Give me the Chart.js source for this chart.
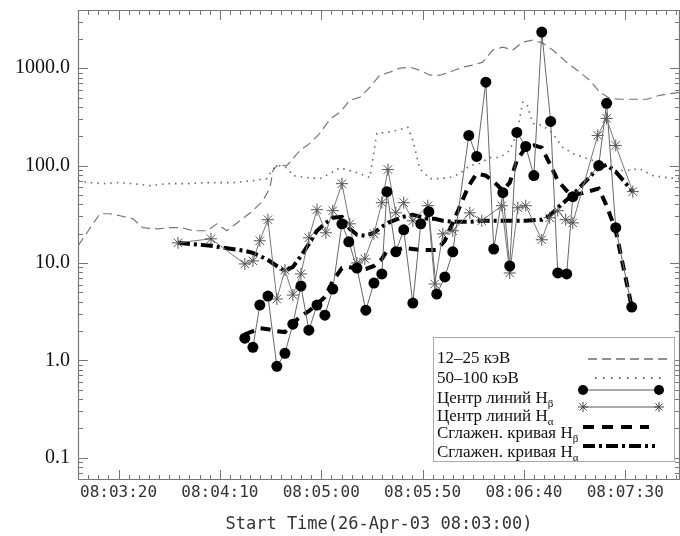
<!DOCTYPE html>
<html>
<head>
<meta charset="utf-8">
<script src="https://cdn.jsdelivr.net/npm/chart.js@4.4.1/dist/chart.umd.min.js"></script>
<style>
html,body{margin:0;padding:0;background:#fff;}
canvas{display:block;}
</style>
</head>
<body>
<canvas id="c" width="680" height="536"></canvas>
<script>
// ---- DATA (seconds after 08:03:00) ----
const hxrTime = [0,10.8,15.8,20.7,27.1,32,39,45.4,51.3,56.7,63.6,68.5,73.5,79.9,86.3,91.2,94.7,96.2,98.1,103,106,109.5,114.4,119.3,122.8,125.7,129.2,134.1,139,144,148.9,153.8,158.8,163.7,168.6,173.6,178.5,183.4,189.8,194.8,199.7,204.6,209.6,214.5,219.4,224.4,229.3,234.2,241.1,247.5,252.5,257.4,262.3,267.3,273.7,280.6,287,293.4,296.8];
const hxr12_25 = [15,32,32,30.5,28.4,23,22.4,23,23,21.4,21.4,25.2,21.4,27.1,34.4,43.5,59,89,100,100,118,143,169,214,271,313,352,468,502,637,847,910,1000,1024,953,847,847,910,1024,1074,1153,1535,1645,1535,1854,1945,1810,1535,1153,910,751,566,491,480,480,480,527,552,565];

const hxr2Time = [0,5.9,12.3,19.2,27.1,35.5,43.9,53.7,63.6,76.4,86.3,93.2,96.2,99.6,103,106,112.9,119.3,124.3,129.2,134.1,139,144,147.4,152.4,157.3,162.7,165.2,168.6,173.6,178.5,183.4,188.4,193.3,198.2,203.2,208.1,213,216.5,219.4,221.4,224.4,229.3,234.2,239.2,244.1,251,257.4,263.8,270.7,277.1,283.5,290.4,296.8];
const hxr50_100 = [70,66.8,65.2,66.8,65.2,62.2,65.2,65.2,66.8,66.8,70,73.4,93,100,95,79,75.2,73.4,82.8,95,88.7,82.8,75.2,214,219,230,247,181,93,73.4,73.4,75.2,82.8,100,105,121,121,143,214,446,435,271,258,214,153,133,118,107,89,89,93,79,75.2,73.4];

const hbTime = [82.3,86.3,89.7,93.7,98.1,102.1,106,110,113.9,117.9,121.8,125.7,130.2,133.6,137.6,142,146,149.9,152.4,156.8,160.7,165.2,169.1,173.1,177,181,184.9,192.8,196.7,201.2,205.1,209.6,213,216.5,220.9,224.9,228.8,233.2,236.7,241.1,244.1,256.9,260.8,265.3,273.2];
const hbCenter = [1.69,1.36,3.69,4.57,0.867,1.18,2.35,5.79,2.04,3.69,2.91,5.4,25.2,16.5,8.87,3.27,6.22,7.71,54,13,21.9,3.87,25.2,33.6,4.79,7.18,13,204,124,718,13.9,52.7,9.31,219,157,78.9,2350,284,7.89,7.71,47.9,100,436,23,3.52];
const hbSmooth = [1.85,1.99,2.14,2.09,1.99,1.95,2.4,2.84,3.2,3.78,4.46,6.52,8.87,9.1,8.67,8.67,9.31,11,13.3,13.6,14.3,13.9,13.6,13.6,13.6,16.9,25.8,62.2,82.8,78.9,68.4,55.2,66.8,113,153,161,153,100,70,55.2,49.1,57.9,38.7,21.4,3.52];

const haTime = [49.3,65.6,82.3,86.3,89.7,93.7,98.1,102.1,106,110,113.9,117.9,122.3,125.7,130.2,134.1,137.6,141.5,146,149.9,152.9,156.8,160.7,165.2,172.6,176,180,184.9,193.3,199.2,209.1,213,217,220.9,228.8,232.7,236.7,240.6,244.1,256.4,260.8,265.3,273.7];
const haCenter = [16.1,17.7,9.77,10.5,16.9,27.8,4.26,8.47,4.68,7.71,18.1,35.2,20.4,34.4,65.2,25.2,10,11,19.9,41.6,91,32.7,41.6,27.1,38.7,6.08,19.9,21.4,32.7,27.1,38.7,7.89,36.9,38.7,17.3,29.1,34.4,27.8,25.8,204,305,161,54];
const haSmooth = [16.1,15,13.3,12.7,11.8,10.7,9.31,8.27,9.1,11.8,15.7,21.4,25.8,29.1,29.8,22.4,19.5,19,20.4,23.5,25.8,27.8,29.8,31.3,28.4,28.4,27.1,26.5,26.5,27.1,27.1,27.1,27.1,27.1,27.8,30.5,36.9,43.5,50.2,93.1,102,86.7,54];

const xTickSeconds = [20,70,120,170,220,270];
const yTickValues = [0.1,1,10,100,1000];
const yTickLabels = ['0.1','1.0','10.0','100.0','1000.0'];
const legendLabels = [
  ['12–25 кэВ',''],
  ['50–100 кэВ',''],
  ['Центр линий H','β'],
  ['Центр линий H','α'],
  ['Сглажен. кривая H','β'],
  ['Сглажен. кривая H','α']
];

function fmtTime(s){
  const t = 8*3600 + 3*60 + Math.round(s);
  const h = Math.floor(t/3600), m = Math.floor((t%3600)/60), sec = t%60;
  const p = n => String(n).padStart(2,'0');
  return p(h)+':'+p(m)+':'+p(sec);
}
const pts = (xs, ys) => xs.map((x,i)=>({x:x, y:ys[i]}));

const AXIS_COLOR = '#777';

const framePlugin = {
  id:'frame',
  afterDatasetsDraw(chart){
    const {ctx, chartArea:a, scales:{x, y}} = chart;
    ctx.save();
    ctx.strokeStyle = AXIS_COLOR;
    ctx.lineWidth = 1.2;
    ctx.beginPath();
    ctx.rect(a.left+0.5, a.top+0.5, a.right-a.left-1, a.bottom-a.top-1);
    ctx.stroke();
    ctx.lineWidth = 1;
    ctx.beginPath();
    for (let s = 5; s < x.max; s += 5) {
      const px = Math.round(x.getPixelForValue(s)) + 0.5;
      const len = ((s - 20) % 50 === 0) ? 10 : 5;
      ctx.moveTo(px, a.bottom); ctx.lineTo(px, a.bottom - len);
      ctx.moveTo(px, a.top); ctx.lineTo(px, a.top + len);
    }
    for (let d = -2; d <= 3; d++) {
      for (let m = 1; m <= 9; m++) {
        const v = m * Math.pow(10, d);
        if (v <= y.min || v >= y.max) continue;
        const py = Math.round(y.getPixelForValue(v)) + 0.5;
        const len = (m === 1) ? 10 : 5;
        ctx.moveTo(a.left, py); ctx.lineTo(a.left + len, py);
        ctx.moveTo(a.right, py); ctx.lineTo(a.right - len, py);
      }
    }
    ctx.stroke();
    ctx.restore();
  }
};

const legendPlugin = {
  id:'customLegend',
  afterDraw(chart){
    const {ctx, chartArea:a} = chart;
    const bx = a.right - 247, by = a.top + 327, bw = 241, bh = 124;
    ctx.save();
    ctx.fillStyle = '#fff';
    ctx.fillRect(bx, by, bw, bh);
    ctx.strokeStyle = '#aaa';
    ctx.lineWidth = 1;
    ctx.strokeRect(bx+0.5, by+0.5, bw, bh);
    const textY = [22, 42, 62, 80, 97, 116];
    const sampY = [22, 41, 53, 70, 90, 109];
    ctx.fillStyle = '#111';
    ctx.textBaseline = 'middle';
    legendLabels.forEach((lab, i) => {
      ctx.font = '17px "Liberation Serif"';
      ctx.fillText(lab[0], bx + 4, by + textY[i]);
      if (lab[1]) {
        const w = ctx.measureText(lab[0]).width;
        ctx.font = '11px "Liberation Serif"';
        ctx.fillText(lab[1], bx + 4 + w, by + textY[i] + 5);
      }
    });
    const x0 = bx + 150, x1 = bx + 226;
    ctx.strokeStyle = '#222'; ctx.lineWidth = 1.2; ctx.setLineDash([9,5]);
    ctx.beginPath(); ctx.moveTo(x0+5, by+sampY[0]); ctx.lineTo(x1+8, by+sampY[0]); ctx.stroke();
    ctx.setLineDash([1.5,6.5]); ctx.lineWidth = 1.6;
    ctx.beginPath(); ctx.moveTo(x0+12, by+sampY[1]); ctx.lineTo(x1+4, by+sampY[1]); ctx.stroke();
    ctx.setLineDash([]); ctx.lineWidth = 1; ctx.strokeStyle = '#555';
    ctx.beginPath(); ctx.moveTo(x0, by+sampY[2]); ctx.lineTo(x1, by+sampY[2]); ctx.stroke();
    ctx.fillStyle = '#000';
    [x0, x1].forEach(px => { ctx.beginPath(); ctx.arc(px, by+sampY[2], 5, 0, Math.PI*2); ctx.fill(); });
    ctx.beginPath(); ctx.moveTo(x0, by+sampY[3]); ctx.lineTo(x1, by+sampY[3]); ctx.stroke();
    ctx.strokeStyle = '#444';
    [x0, x1].forEach(px => {
      const cy = by+sampY[3], r = 5;
      ctx.beginPath();
      for (let k = 0; k < 4; k++) {
        const ang = k*Math.PI/4;
        ctx.moveTo(px - r*Math.cos(ang), cy - r*Math.sin(ang));
        ctx.lineTo(px + r*Math.cos(ang), cy + r*Math.sin(ang));
      }
      ctx.stroke();
    });
    ctx.strokeStyle = '#000'; ctx.lineWidth = 4; ctx.setLineDash([11,8]);
    ctx.beginPath(); ctx.moveTo(x0, by+sampY[4]); ctx.lineTo(x1-10, by+sampY[4]); ctx.stroke();
    ctx.setLineDash([12,4,3,4]);
    ctx.beginPath(); ctx.moveTo(x0, by+sampY[5]); ctx.lineTo(x1-4, by+sampY[5]); ctx.stroke();
    ctx.restore();
  }
};

new Chart(document.getElementById('c'), {
  type:'line',
  data:{
    datasets:[
      {label:'Центр линий Hβ', data:pts(hbTime, hbCenter), borderColor:'#666', borderWidth:1,
       pointStyle:'circle', pointRadius:5.5, pointBackgroundColor:'#000', pointBorderColor:'#000', pointBorderWidth:0, tension:0, order:1},
      {label:'Центр линий Hα', data:pts(haTime, haCenter), borderColor:'#777', borderWidth:1,
       pointStyle:'star', pointRadius:6, pointBorderColor:'#555', pointBorderWidth:1, tension:0, order:2},
      {label:'Сглажен. кривая Hβ', data:pts(hbTime, hbSmooth), borderColor:'#000', borderWidth:4, borderDash:[10,7],
       pointRadius:0, tension:0, order:3},
      {label:'Сглажен. кривая Hα', data:pts(haTime, haSmooth), borderColor:'#000', borderWidth:4, borderDash:[12,4,3,4],
       pointRadius:0, tension:0, order:4},
      {label:'50–100 кэВ', data:pts(hxr2Time, hxr50_100), borderColor:'#666', borderWidth:1.6, borderDash:[1.5,5],
       pointRadius:0, tension:0, order:5},
      {label:'12–25 кэВ', data:pts(hxrTime, hxr12_25), borderColor:'#777', borderWidth:1.2, borderDash:[9,5],
       pointRadius:0, tension:0, order:6}
    ]
  },
  options:{
    responsive:false,
    animation:false,
    layout:{autoPadding:false, padding:{top:10, right:0, left:0, bottom:0}},
    plugins:{legend:{display:false}, tooltip:{enabled:false}},
    scales:{
      x:{
        type:'linear', min:0, max:297,
        grid:{display:false, drawTicks:false}, border:{display:false},
        afterBuildTicks: s => { s.ticks = xTickSeconds.map(v => ({value:v})); },
        ticks:{callback: v => fmtTime(v), font:{family:'DejaVu Sans Mono', size:16, lineHeight:1.1}, color:'#333', padding:4, maxRotation:0, autoSkip:false},
        title:{display:true, text:'Start Time(26-Apr-03 08:03:00)', font:{family:'DejaVu Sans Mono', size:17, lineHeight:1.1}, color:'#333', padding:{top:4, bottom:2}},
        afterFit: s => { s.height = 56; s.paddingLeft = 0; s.paddingRight = 0; }
      },
      y:{
        type:'logarithmic', min:0.059, max:3960,
        grid:{display:false, drawTicks:false}, border:{display:false},
        afterBuildTicks: s => { s.ticks = yTickValues.map(v => ({value:v})); },
        ticks:{callback: (v, i) => yTickLabels[i], font:{family:'Liberation Serif', size:20, lineHeight:1.0}, color:'#111', padding:8, autoSkip:false},
        afterFit: s => { s.width = 78; s.paddingTop = 0; s.paddingBottom = 0; }
      }
    }
  },
  plugins:[framePlugin, legendPlugin]
});
</script>
</body>
</html>
